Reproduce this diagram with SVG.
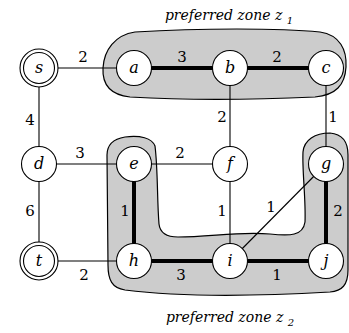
<svg xmlns="http://www.w3.org/2000/svg" width="349" height="333" viewBox="0 0 349 333">
<style>
.zone{fill:#cccccc;stroke:#000;stroke-width:1.2}
.e{stroke:#000;stroke-width:1.1;fill:none}
.t{stroke:#000;stroke-width:4;fill:none}
.n{fill:#fff;stroke:#000;stroke-width:1.1}
.lb{font-family:'DejaVu Serif',serif;font-style:italic;font-size:16px;text-anchor:middle}
.w{font-family:'DejaVu Serif',serif;font-size:15px;text-anchor:middle}
.ttl{font-family:'DejaVu Serif',serif;font-style:italic;font-size:14px;text-anchor:middle}
</style>
<rect width="349" height="333" fill="#fff"/>
<g id="zone1">
<path class="zone" d="M135,32 C200,28 280,28 320,32 C340,35 347,50 346,67 C345,85 336,95 315,97 C250,100 180,100 130,97 C112,95 102,86 103,68 C104,50 115,35 135,32 Z"/>
</g>
<g id="zone2">
<path class="zone" d="M125,137 C140,135 152,138 155,146 C158,170 157,200 159,224 C160,233 166,237 178,237 C210,237 240,231 270,234 C290,236 303,236 305,222 C306,200 302,170 303,152 C304,140 315,133 330,133 C342,134 348,142 348,155 L348,270 C348,285 342,291 330,292 C260,296 180,297 125,290 C112,288 108,280 108,265 L107,155 C107,145 113,139 125,137 Z"/>
</g>
<g id="connectors">
<line class="e" x1="39" y1="68" x2="134" y2="68"/>
<line class="t" x1="134" y1="68" x2="230" y2="68"/>
<line class="t" x1="230" y1="68" x2="326" y2="68"/>
<line class="e" x1="39" y1="68" x2="39" y2="164"/>
<line class="e" x1="230" y1="68" x2="230" y2="164"/>
<line class="e" x1="326" y1="68" x2="326" y2="164"/>
<line class="e" x1="39" y1="164" x2="134" y2="164"/>
<line class="e" x1="134" y1="164" x2="230" y2="164"/>
<line class="e" x1="39" y1="164" x2="39" y2="261"/>
<line class="t" x1="134" y1="164" x2="134" y2="261"/>
<line class="e" x1="230" y1="164" x2="230" y2="261"/>
<line class="e" x1="326" y1="164" x2="230" y2="261"/>
<line class="t" x1="326" y1="164" x2="326" y2="261"/>
<line class="e" x1="39" y1="261" x2="134" y2="261"/>
<line class="t" x1="134" y1="261" x2="230" y2="261"/>
<line class="t" x1="230" y1="261" x2="326" y2="261"/>
<text class="w" x="83" y="62">2</text>
<text class="w" x="182" y="62">3</text>
<text class="w" x="277" y="62">2</text>
<text class="w" x="30" y="125">4</text>
<text class="w" x="222" y="122">2</text>
<text class="w" x="333" y="122">1</text>
<text class="w" x="80" y="158">3</text>
<text class="w" x="180" y="158">2</text>
<text class="w" x="30" y="216">6</text>
<text class="w" x="125" y="216">1</text>
<text class="w" x="222" y="216">1</text>
<text class="w" x="271" y="212">1</text>
<text class="w" x="338" y="216">2</text>
<text class="w" x="84" y="280">2</text>
<text class="w" x="181" y="280">3</text>
<text class="w" x="277" y="280">1</text>
</g>
<g id="s"><circle class="n" cx="39" cy="68" r="19"/><circle class="n" cx="39" cy="68" r="15.5"/><text class="lb" x="39" y="73">s</text></g>
<g id="a"><circle class="n" cx="134" cy="68" r="17.5"/><text class="lb" x="134" y="73">a</text></g>
<g id="b"><circle class="n" cx="230" cy="68" r="17.5"/><text class="lb" x="230" y="73">b</text></g>
<g id="c"><circle class="n" cx="326" cy="68" r="17.5"/><text class="lb" x="326" y="73">c</text></g>
<g id="d"><circle class="n" cx="39" cy="164" r="17.5"/><text class="lb" x="39" y="169">d</text></g>
<g id="e"><circle class="n" cx="134" cy="164" r="17.5"/><text class="lb" x="134" y="169">e</text></g>
<g id="f"><circle class="n" cx="230" cy="164" r="17.5"/><text class="lb" x="230" y="169">f</text></g>
<g id="g"><circle class="n" cx="326" cy="164" r="17.5"/><text class="lb" x="326" y="169">g</text></g>
<g id="t"><circle class="n" cx="39" cy="261" r="19"/><circle class="n" cx="39" cy="261" r="15.5"/><text class="lb" x="39" y="266">t</text></g>
<g id="h"><circle class="n" cx="134" cy="261" r="17.5"/><text class="lb" x="134" y="266">h</text></g>
<g id="i"><circle class="n" cx="230" cy="261" r="17.5"/><text class="lb" x="230" y="266">i</text></g>
<g id="j"><circle class="n" cx="326" cy="261" r="17.5"/><text class="lb" x="326" y="266">j</text></g>
<g id="titles">
<text class="ttl" x="229" y="20">preferred zone z <tspan dy="4" font-size="10">1</tspan></text>
<text class="ttl" x="230" y="322">preferred zone z <tspan dy="4" font-size="10">2</tspan></text>
</g>
</svg>
